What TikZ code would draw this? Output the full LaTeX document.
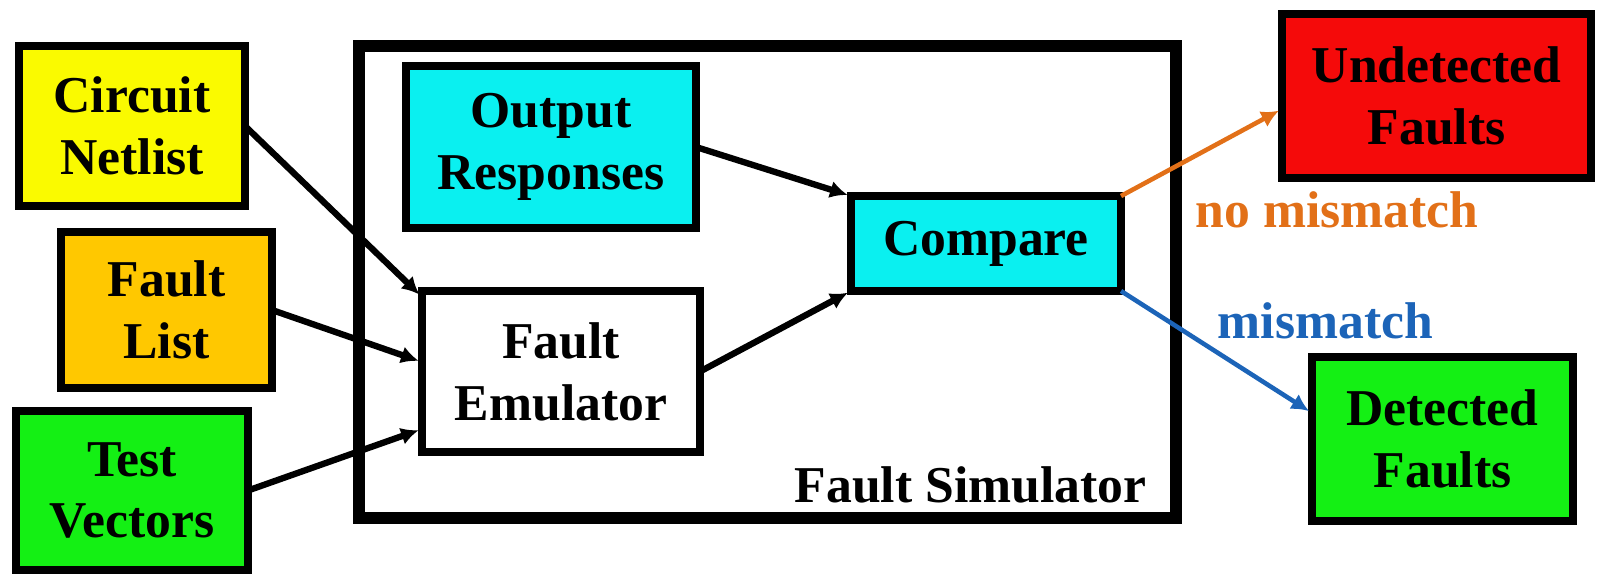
\documentclass[tikz,border=0pt]{standalone}
\usepackage{fontspec}
\setmainfont{Liberation Serif}
\usepackage{xcolor}
\usepackage{tikz}
\usetikzlibrary{positioning,arrows.meta}

\definecolor{netyellow}{RGB}{250,250,0}
\definecolor{listgold}{RGB}{255,200,0}
\definecolor{vecgreen}{RGB}{20,240,20}
\definecolor{cmpcyan}{RGB}{10,240,240}
\definecolor{undred}{RGB}{245,10,10}
\definecolor{nomisorange}{RGB}{226,112,24}
\definecolor{misblue}{RGB}{28,100,184}

\begin{document}
\begin{tikzpicture}[node distance=1cm,
			box/.style={draw, rectangle, line width=2.3pt, outer sep=0pt, align=center,
				font=\fontsize{14.7}{17.6}\selectfont\bfseries},
			arrow/.style={-{Latex[length=5pt,width=5pt]}, line width=1.8pt, shorten >=1pt},
			lbl/.style={font=\fontsize{14.7}{17.6}\selectfont\bfseries, inner sep=0pt}]
			
			\useasboundingbox (0,0) rectangle (16,-5.74);
			
			\node[draw, rectangle, line width=3.4pt, outer sep=0pt, minimum width=8.17cm, minimum height=4.72cm] (sim) at (7.675,-2.82) {};
			\node[lbl, anchor=base east] (simlbl) at ([xshift=-0.29cm,yshift=0.16cm]sim.south east) {Fault Simulator};
			
			\node[box, fill=netyellow, minimum width=2.26cm, minimum height=1.6cm] (cn) at (1.32,-1.26) {Circuit\\Netlist};
			\node[box, fill=listgold, minimum width=2.11cm, minimum height=1.56cm, below=0.26cm of cn, xshift=0.345cm] (fl) {Fault\\List};
			\node[box, fill=vecgreen, minimum width=2.32cm, minimum height=1.59cm, below=0.23cm of fl, xshift=-0.345cm] (tv) {Test\\Vectors};
			\node[box, fill=white, minimum width=2.78cm, minimum height=1.61cm, right=1.5cm of fl, yshift=-0.615cm] (fe) {Fault\\Emulator};
			\node[box, fill=cmpcyan, minimum width=2.9cm, minimum height=1.62cm, above=0.63cm of fe, xshift=-0.1cm] (outr) {Output\\Responses};
			\node[box, fill=cmpcyan, minimum width=2.7cm, minimum height=0.95cm, right=1.51cm of fe, yshift=1.28cm] (cmp) {Compare};
			\node[box, fill=undred, minimum width=3.09cm, minimum height=1.64cm, right=1.61cm of cmp, yshift=1.475cm] (und) {Undetected\\Faults};
			\node[box, fill=vecgreen, minimum width=2.61cm, minimum height=1.64cm, right=1.91cm of cmp, yshift=-1.955cm] (det) {Detected\\Faults};
			
			\node[lbl, text=nomisorange, anchor=base west] (nomis) at (11.95,-2.27) {no mismatch};
			\node[lbl, text=misblue, anchor=base west] (mis) at (12.17,-3.38) {mismatch};
			
			\draw[arrow] (cn.east) -- ([yshift=0.745cm]fe.west);
			\draw[arrow] (fl.east) -- ([yshift=0.095cm]fe.west);
			\draw[arrow] (tv.east) -- ([yshift=-0.575cm]fe.west);
			\draw[arrow] (outr.east) -- (cmp.north west);
			\draw[arrow] (fe.east) -- (cmp.south west);
			\draw[arrow, nomisorange, line width=1.3pt] (cmp.north east) -- ([yshift=-0.13cm]und.west);
			\draw[arrow, misblue, line width=1.3pt] (cmp.south east) -- ([yshift=0.26cm]det.west);
			
		\end{tikzpicture}
\end{document}
